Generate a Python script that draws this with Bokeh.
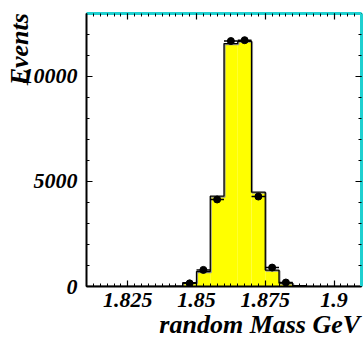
import numpy as np
from bokeh.plotting import figure
from bokeh.models import LinearAxis, FixedTicker, Range1d, ColumnDataSource, CustomLabelingPolicy
from bokeh.embed import file_html
from bokeh.resources import INLINE

# ---- data ----
bin_edges = [round(1.81 + 0.005 * i, 3) for i in range(21)]
hist_counts = [0, 0, 0, 0, 0, 3, 20, 180, 710, 4300, 11560, 11670, 4490, 780, 160, 35, 5, 0, 0, 0]
data_counts = [0, 0, 0, 0, 0, 0, 0, 150, 790, 4140, 11680, 11720, 4280, 900, 190, 0, 0, 0, 0, 0]
x_major = [1.825, 1.85, 1.875, 1.9]
y_major = [0, 5000, 10000]
x_title = "random Mass GeV"
y_title = "Events"

FONT = "Liberation Serif"
CYAN = "#1fd0d0"
NBSP = "\u00a0"

edges = np.array(bin_edges)
hist = np.array(hist_counts, dtype=float)
data = np.array(data_counts, dtype=float)
left = edges[:-1]
right = edges[1:]
centers = 0.5 * (left + right)

p = figure(width=364, height=341, output_backend="svg", toolbar_location=None,
           x_range=Range1d(1.81, 1.91), y_range=Range1d(0, 12990),
           min_border_left=86, min_border_right=3, min_border_top=13, min_border_bottom=53,
           x_axis_location=None, y_axis_location=None)
p.grid.visible = False
p.background_fill_color = "white"
p.border_fill_color = "white"
p.outline_line_color = "black"
p.outline_line_width = 1

# histogram fill
src = ColumnDataSource(dict(left=left, right=right, top=hist, bottom=np.zeros_like(hist)))
p.quad(left="left", right="right", top="top", bottom="bottom", source=src,
       fill_color="#ffff00", line_color=None)
# histogram outline (shadow + black)
step_y = np.append(hist, hist[-1])
p.step(x=edges + 0.0003, y=step_y - 40, mode="after", line_color="#999999", line_width=1.5)
p.step(x=edges, y=step_y, mode="after", line_color="black", line_width=1.3)

# data points
m = data > 0
dsrc = ColumnDataSource(dict(x=centers[m], y=data[m], l=left[m], r=right[m],
                             lo=data[m] - np.sqrt(data[m]), hi=data[m] + np.sqrt(data[m])))
p.segment(x0="l", x1="r", y0="y", y1="y", source=dsrc, line_color="black", line_width=1.5)
p.segment(x0="x", x1="x", y0="lo", y1="hi", source=dsrc, line_color="black", line_width=1.5)
p.scatter(x="x", y="y", source=dsrc, size=7, color="black")

x_minor = [round(1.81 + 0.0025 * i, 4) for i in range(41)]
y_minor = list(range(0, 13000, 1000))


def style_axis(ax, major, minor, labels=True, line_color="black", line_width=2):
    ax.ticker = FixedTicker(ticks=major, minor_ticks=minor)
    ax.major_tick_in = 6
    ax.major_tick_out = 0
    ax.minor_tick_in = 3
    ax.minor_tick_out = 0
    ax.major_tick_line_color = "black"
    ax.minor_tick_line_color = "black"
    ax.major_tick_line_width = 1.2
    ax.minor_tick_line_width = 1
    ax.axis_line_color = line_color
    ax.axis_line_width = line_width
    if labels:
        ax.major_label_text_font = FONT
        ax.major_label_text_font_style = "bold italic"
        ax.major_label_text_font_size = "22px"
        ax.major_label_text_color = "black"
    else:
        # tick marks only, no tick labels on the mirrored axes
        ax.major_label_policy = CustomLabelingPolicy(code="return new Set()")
        ax.major_label_text_font_size = "0px"
        ax.major_label_standoff = 0


def style_title(ax, text, size, standoff):
    ax.axis_label = text
    ax.axis_label_text_font = FONT
    ax.axis_label_text_font_style = "bold italic"
    ax.axis_label_text_font_size = size
    ax.axis_label_text_color = "black"
    ax.axis_label_standoff = standoff


xb = LinearAxis()
style_axis(xb, x_major, x_minor)
xb.major_label_standoff = 6
# leading no-break spaces push the centred title to the far end of the axis (ROOT style)
style_title(xb, NBSP * 11 + x_title, "26px", 0)
p.add_layout(xb, "below")

yl = LinearAxis()
style_axis(yl, y_major, y_minor)
yl.major_label_standoff = 9
style_title(yl, NBSP * 31 + y_title, "26px", -14)
p.add_layout(yl, "left")

xt = LinearAxis()
style_axis(xt, x_major, x_minor, labels=False, line_color=CYAN, line_width=3)
p.add_layout(xt, "above")

yr = LinearAxis()
style_axis(yr, y_major, y_minor, labels=False, line_color=CYAN, line_width=3)
p.add_layout(yr, "right")

open("out.html", "w").write(file_html(p, INLINE))
